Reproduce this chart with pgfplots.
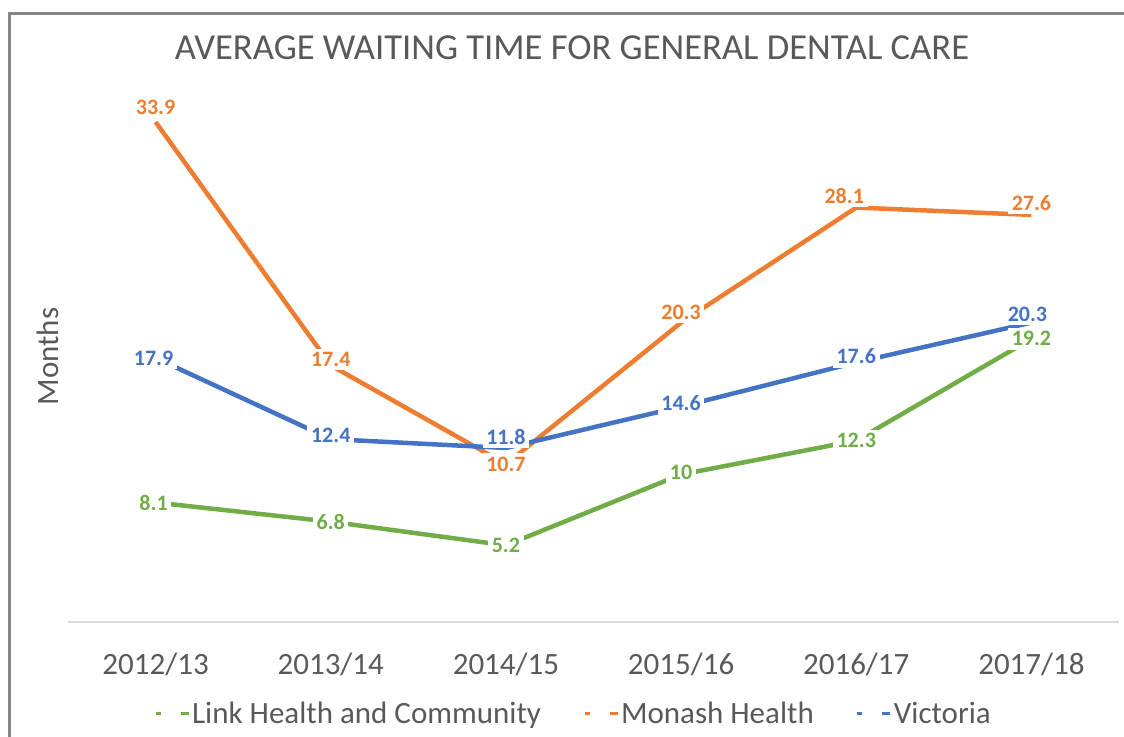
\documentclass[border=0pt]{standalone}
\usepackage{pgfplots}
\usepackage{pgfplotstable}
\pgfplotsset{compat=1.18}
\usepackage{fontspec}
\setmainfont{Carlito}
\definecolor{cgreen}{HTML}{70AD47}
\definecolor{corange}{HTML}{ED7D31}
\definecolor{cblue}{HTML}{4472C4}
\definecolor{ctext}{HTML}{595959}
\definecolor{caxis}{HTML}{D9D9D9}
\definecolor{cframe}{HTML}{868686}

\pgfplotstableread{
x y dx dy
0 8.1 -1 0
1 6.8 0 0
2 5.2 0 0
3 10 0 1
4 12.3 0 0
5 19.2 0 0
}\link
\pgfplotstableread{
x y dx dy
0 33.9 0 7.5
1 17.4 0 3
2 10.7 0 0
3 20.3 0 5
4 28.1 -6 6
5 27.6 0 6
}\monash
\pgfplotstableread{
x y dx dy
0 17.9 -1 0
1 12.4 0 2
2 11.8 0 5.5
3 14.6 0 2
4 17.6 0 3
5 20.3 -2 4
}\victoria

\begin{document}
\begin{tikzpicture}
\begin{axis}[
  at={(34pt,57pt)}, anchor=south west,
  scale only axis, width=525.5pt, height=265.5pt,
  xmin=-0.5, xmax=5.5, ymin=0, ymax=36,
  clip=false,
  axis x line*=bottom,
  axis y line*=left,
  x axis line style={draw=caxis, line width=0.75pt},
  y axis line style={draw=none},
  xtick={0,1,2,3,4,5},
  xticklabels={2012/13,2013/14,2014/15,2015/16,2016/17,2017/18},
  major tick length=0pt,
  xticklabel style={anchor=base, yshift=-26pt, font=\fontsize{15.5}{18}\selectfont, text=ctext},
  ytick=\empty,
  ylabel={Months},
  ylabel style={at={(axis description cs:-0.0195,0.5)}, anchor=center, font=\fontsize{15.5}{18}\selectfont, text=ctext},
  title={AVERAGE WAITING TIME FOR GENERAL DENTAL CARE},
  title style={at={(axis description cs:0.4795,1.058)}, anchor=center, font=\fontsize{18.3}{22}\selectfont, text=ctext},
  legend columns=3,
  legend style={at={(axis description cs:0.481,-0.173)}, anchor=center, draw=none, fill=none,
    font=\fontsize{15.5}{18}\selectfont, text=ctext,
    /tikz/every even column/.append style={column sep=20pt},
    nodes={inner sep=1pt}},
  legend image code/.code={
    \draw[#1, line width=1.5pt] (0pt,0pt) -- (2.5pt,0pt);
    \draw[#1, line width=1.5pt] (12.5pt,0pt) -- (16.5pt,0pt);
  },
  every axis plot/.append style={line width=2.25pt, line join=round, mark=none},
  nodes near coords style={anchor=center, fill=white, inner sep=1.8pt, font=\fontsize{11}{12}\selectfont\bfseries},
]
\addplot[cgreen] table[x=x,y=y] {\link};
\addlegendentry{Link Health and Community}
\addplot[corange] table[x=x,y=y] {\monash};
\addlegendentry{Monash Health}
\addplot[cblue] table[x=x,y=y] {\victoria};
\addlegendentry{Victoria}

\addplot[draw=none, forget plot, text=cgreen,
  point meta=explicit symbolic, nodes near coords,
  visualization depends on={\thisrow{dx} \as \dx},
  visualization depends on={\thisrow{dy} \as \dy},
  nodes near coords style={xshift=\dx*1pt, yshift=\dy*1pt}]
  table[x=x,y=y,meta=y] {\link};
\addplot[draw=none, forget plot, text=corange,
  point meta=explicit symbolic, nodes near coords,
  visualization depends on={\thisrow{dx} \as \dx},
  visualization depends on={\thisrow{dy} \as \dy},
  nodes near coords style={xshift=\dx*1pt, yshift=\dy*1pt}]
  table[x=x,y=y,meta=y] {\monash};
\addplot[draw=none, forget plot, text=cblue,
  point meta=explicit symbolic, nodes near coords,
  visualization depends on={\thisrow{dx} \as \dx},
  visualization depends on={\thisrow{dy} \as \dy},
  nodes near coords style={xshift=\dx*1pt, yshift=\dy*1pt}]
  table[x=x,y=y,meta=y] {\victoria};
\end{axis}
\draw[cframe, line width=1.5pt] (4.75pt,-5pt) -- (4.75pt,361.5pt) -- (570pt,361.5pt);
\pgfresetboundingbox
\path[use as bounding box] (0,0) rectangle (562pt,368pt);
\end{tikzpicture}
\end{document}
